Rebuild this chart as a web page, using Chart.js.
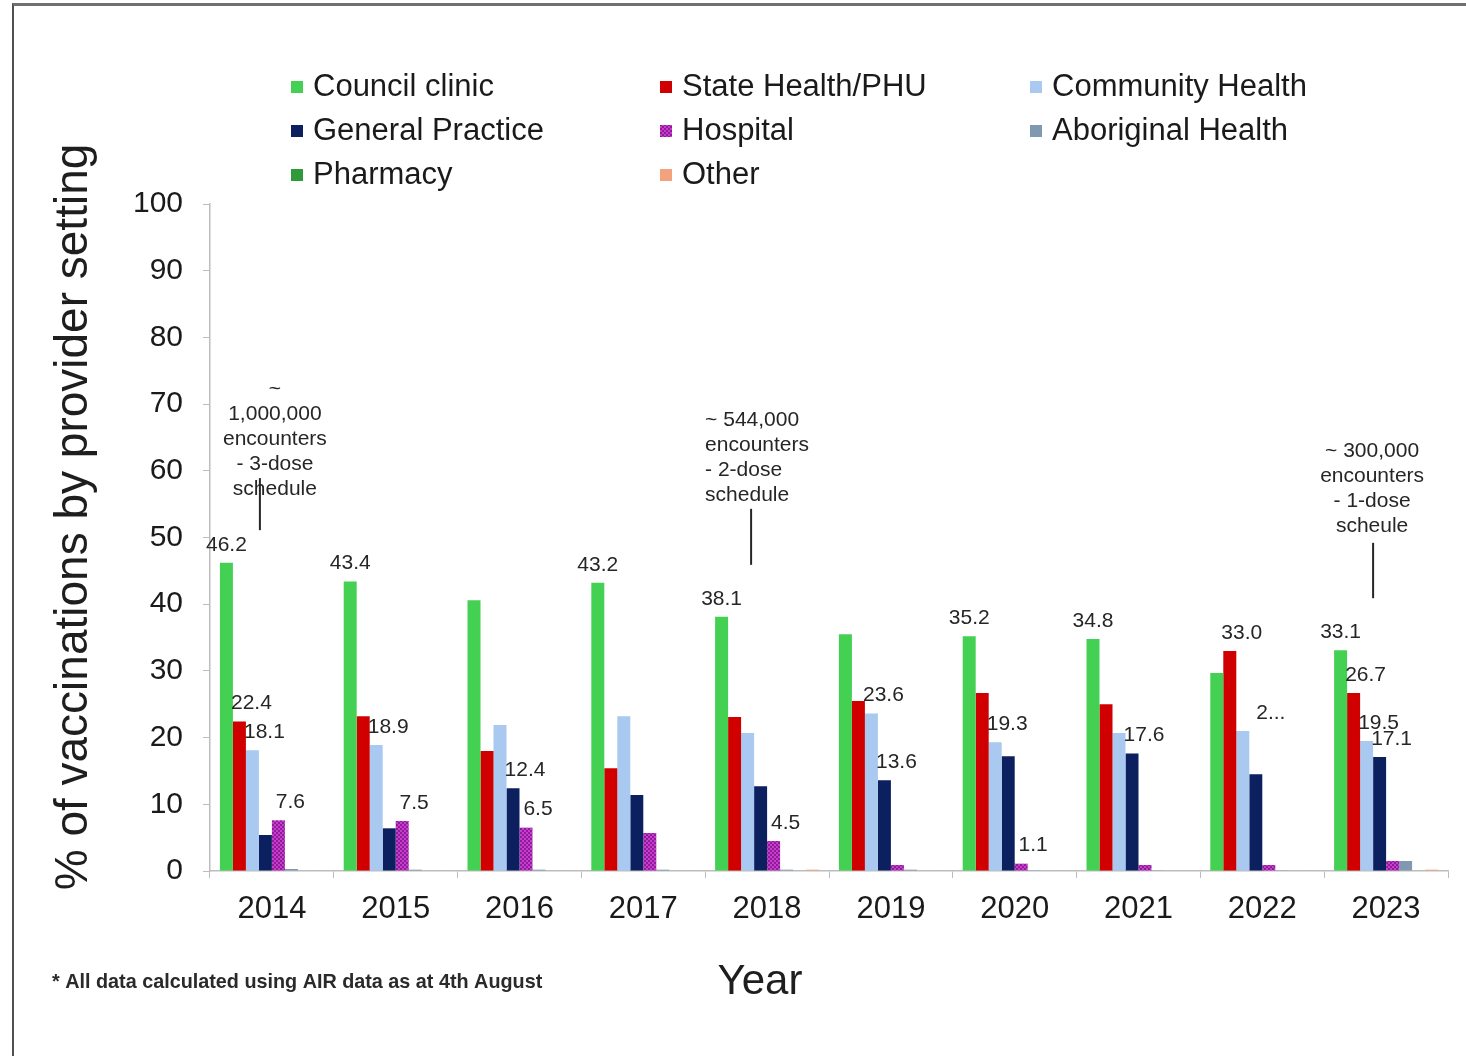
<!DOCTYPE html>
<html>
<head>
<meta charset="utf-8">
<script src="https://cdn.jsdelivr.net/npm/chart.js@4/dist/chart.umd.min.js"></script>
<style>
  html, body { margin: 0; padding: 0; background: #fff; }
  #wrap { position: relative; width: 1466px; height: 1056px; overflow: hidden; }
  #wrap canvas { position: absolute; left: 0; top: 0; }
  #frame { position: absolute; left: 12px; top: 3px; right: -10px; bottom: -10px;
           border-top: 3px solid #707070; border-left: 2px solid #505050; pointer-events: none; }
</style>
</head>
<body>
<div id="wrap">
  <canvas id="chart" width="1466" height="1056"></canvas>
  <div id="frame"></div>
</div>
<script>
// ---- data -------------------------------------------------------------
const years = ['2014', '2015', '2016', '2017', '2018', '2019', '2020', '2021', '2022', '2023'];
const seriesNames = ['Council clinic', 'State Health/PHU', 'Community Health', 'General Practice',
                     'Hospital', 'Aboriginal Health', 'Pharmacy', 'Other'];
const councilClinic    = [46.2, 43.4, 40.6, 43.2, 38.1, 35.5, 35.2, 34.8, 29.7, 33.1];
const stateHealth      = [22.4, 23.2, 18.0, 15.4, 23.1, 25.5, 26.7, 25.0, 33.0, 26.7];
const communityHealth  = [18.1, 18.9, 21.9, 23.2, 20.7, 23.6, 19.3, 20.7, 21.0, 19.5];
const generalPractice  = [5.4, 6.4, 12.4, 11.4, 12.7, 13.6, 17.2, 17.6, 14.5, 17.1];
const hospital         = [7.6, 7.5, 6.5, 5.7, 4.5, 0.9, 1.1, 0.9, 0.9, 1.5];
const aboriginalHealth = [0.3, 0.2, 0.2, 0.2, 0.2, 0.2, 0.1, 0.1, 0.1, 1.5];
const pharmacy         = [0, 0, 0, 0, 0, 0, 0, 0, 0, 0];
const other            = [0.1, 0.1, 0.1, 0.1, 0.2, 0.1, 0.1, 0.1, 0.1, 0.2];
const yTickValues      = [0, 10, 20, 30, 40, 50, 60, 70, 80, 90, 100];

// value labels shown on the chart: [series index, year index, truncated?]
const valueLabels = [
  [0, 0], [1, 0], [2, 0], [4, 0],
  [0, 1], [2, 1], [4, 1],
  [3, 2], [4, 2],
  [0, 3],
  [0, 4], [4, 4],
  [2, 5], [3, 5],
  [0, 6], [2, 6], [4, 6],
  [0, 7], [3, 7],
  [1, 8], [2, 8, true],
  [0, 9], [1, 9], [2, 9], [3, 9]
];

// ---- styling ----------------------------------------------------------
const FONT = '"Liberation Sans", Arial, Helvetica, sans-serif';

function makeHospitalPattern() {
  const pc = document.createElement('canvas');
  pc.width = 4; pc.height = 4;
  const g = pc.getContext('2d');
  g.fillStyle = '#c83cd0';
  g.fillRect(0, 0, 4, 4);
  g.fillStyle = '#8e1c96';
  g.fillRect(0, 0, 2, 2);
  g.fillRect(2, 2, 2, 2);
  return g.createPattern(pc, 'repeat');
}
const hospitalFill = makeHospitalPattern();

const seriesValues = [councilClinic, stateHealth, communityHealth, generalPractice,
                      hospital, aboriginalHealth, pharmacy, other];
const seriesColors = ['#44d052', '#d00000', '#a9c9f0', '#0c1f5e',
                      hospitalFill, '#8099b0', '#2f9a3a', '#f4a27c'];

const datasets = seriesNames.map((name, i) => ({
  label: name,
  data: seriesValues[i],
  backgroundColor: seriesColors[i],
  borderWidth: 0,
  categoryPercentage: 0.84,
  barPercentage: 1.0
}));

// ---- annotations, legend, titles --------------------------------------
const notes = [
  { cat: 0, lines: ['~', '1,000,000', 'encounters', '- 3-dose', 'schedule'], align: 'center',
    textDx: 3, firstLine: 72.3, lineDx: -12, lineTop: 58.9, lineBottom: 51.1 },
  { cat: 4, lines: ['~ 544,000', 'encounters', '- 2-dose', 'schedule'], align: 'left',
    textDx: -62, firstLine: 67.6, lineDx: -16, lineTop: 54.3, lineBottom: 45.9 },
  { cat: 9, lines: ['~ 300,000', 'encounters', '- 1-dose', 'scheule'], align: 'center',
    textDx: -14, firstLine: 63.0, lineDx: -13, lineTop: 49.2, lineBottom: 40.9 }
];

const extras = {
  id: 'extras',
  afterDatasetsDraw(chart) {
    const ctx = chart.ctx;
    const xs = chart.scales.x, ys = chart.scales.y;

    // value labels above bars
    ctx.save();
    ctx.font = '21px ' + FONT;
    ctx.fillStyle = '#262626';
    ctx.textAlign = 'center';
    ctx.textBaseline = 'middle';
    valueLabels.forEach(([s, i, trunc]) => {
      const bar = chart.getDatasetMeta(s).data[i];
      const v = chart.data.datasets[s].data[i];
      let txt = v.toFixed(1);
      let dx = s === 0 ? 0 : 12;
      if (trunc) { txt = txt.charAt(0) + '...'; dx = 28; }
      ctx.fillText(txt, bar.x + dx, bar.y - 18);
    });
    ctx.restore();

    // encounter notes with pointer lines
    ctx.save();
    ctx.font = '21px ' + FONT;
    ctx.fillStyle = '#262626';
    ctx.strokeStyle = '#262626';
    ctx.lineWidth = 2;
    ctx.textBaseline = 'middle';
    notes.forEach(n => {
      const cx = xs.getPixelForValue(n.cat);
      const y0 = ys.getPixelForValue(n.firstLine);
      ctx.textAlign = n.align;
      n.lines.forEach((t, k) => ctx.fillText(t, cx + n.textDx, y0 + k * 25));
      ctx.beginPath();
      ctx.moveTo(cx + n.lineDx, ys.getPixelForValue(n.lineTop));
      ctx.lineTo(cx + n.lineDx, ys.getPixelForValue(n.lineBottom));
      ctx.stroke();
    });
    ctx.restore();

    // legend in three columns
    ctx.save();
    ctx.font = '31px ' + FONT;
    ctx.textAlign = 'left';
    ctx.textBaseline = 'middle';
    const colX = [291, 660, 1030], rowY = [87, 131, 175];
    chart.data.datasets.forEach((ds, i) => {
      const x = colX[i % 3], y = rowY[Math.floor(i / 3)];
      ctx.fillStyle = ds.backgroundColor;
      ctx.fillRect(x, y - 6, 12, 12);
      ctx.fillStyle = '#1a1a1a';
      ctx.fillText(ds.label, x + 22, y);
    });
    ctx.restore();

    // axis titles and footnote
    ctx.save();
    ctx.fillStyle = '#1e1e1e';
    ctx.textBaseline = 'middle';
    ctx.textAlign = 'center';
    ctx.font = '42px ' + FONT;
    ctx.fillText('Year', 760, 982);
    ctx.save();
    ctx.translate(74, 517);
    ctx.rotate(-Math.PI / 2);
    ctx.font = '46px ' + FONT;
    ctx.fillText('% of vaccinations by provider setting', 0, 0);
    ctx.restore();
    ctx.textAlign = 'left';
    ctx.font = 'bold 19.8px ' + FONT;
    ctx.fillStyle = '#2a2a2a';
    ctx.fillText('* All data calculated using AIR data as at 4th August', 52, 983);
    ctx.restore();
  }
};

new Chart(document.getElementById('chart'), {
  type: 'bar',
  data: { labels: years, datasets },
  options: {
    responsive: false,
    animation: false,
    layout: { padding: { top: 204, right: 18, left: 0, bottom: 0 } },
    plugins: { legend: { display: false }, tooltip: { enabled: false } },
    scales: {
      x: {
        grid: { drawOnChartArea: false, offset: true, tickLength: 7, color: '#bdbdbd' },
        border: { color: '#bdbdbd', width: 1.5 },
        ticks: { font: { family: FONT, size: 31 }, color: '#1a1a1a', padding: 13, maxRotation: 0 },
        afterFit(scale) { scale.height = 185; }
      },
      y: {
        min: 0, max: 100,
        afterBuildTicks(scale) { scale.ticks = yTickValues.map(v => ({ value: v })); },
        grid: { drawOnChartArea: false, tickLength: 7, color: '#bdbdbd' },
        border: { color: '#bdbdbd', width: 1.5 },
        ticks: { font: { family: FONT, size: 30 }, color: '#1a1a1a', padding: 20 },
        afterFit(scale) { scale.width = 210; }
      }
    }
  },
  plugins: [extras]
});
</script>
</body>
</html>
